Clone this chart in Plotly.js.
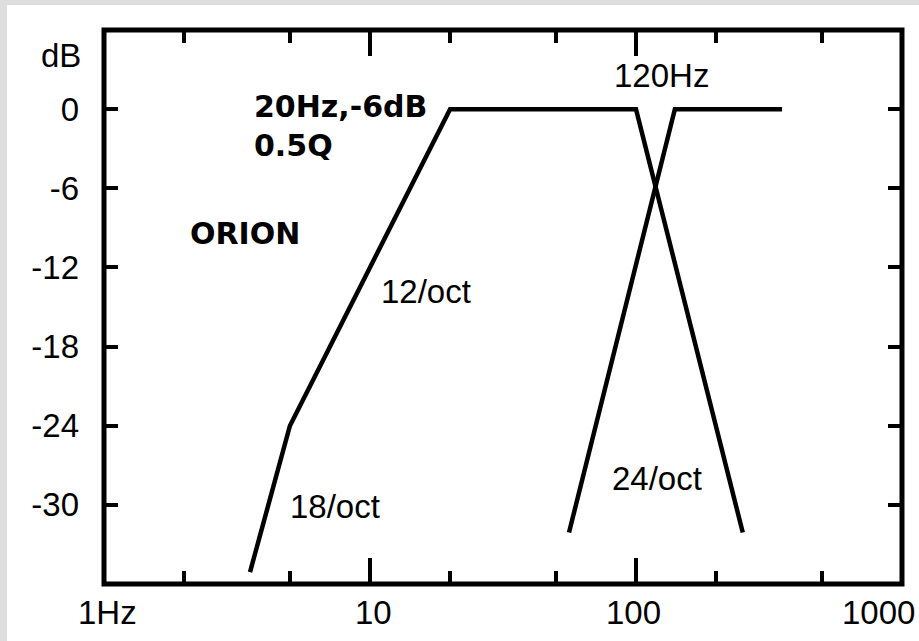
<!DOCTYPE html>
<html>
<head>
<meta charset="utf-8">
<script src="https://cdn.plot.ly/plotly-3.0.1.min.js"></script>
<style>
html,body{margin:0;padding:0;background:#ffffff;overflow:hidden;}
#chart{position:absolute;left:0;top:0;width:919px;height:641px;background:#ffffff;}
</style>
</head>
<body>
<div id="chart"></div>
<script>
// Frequency (Hz) and level (dB)
const highPassFreq = [3.54, 5, 20, 100, 252];
const highPassDb   = [-35.1, -24, 0, 0, -32.1];
const lowCutFreq   = [56, 140, 354];
const lowCutDb     = [-32.1, 0, 0];

const yTickVals  = [0, -6, -12, -18, -24, -30];
const yTickText  = ["0", "-6", "-12", "-18", "-24", "-30"];
const xMajorVals = [10, 100];
const xMinorVals = [2, 5, 20, 50, 200, 500];
const xLabelVals = [1, 10, 100, 1000];
const xLabelText = ["1Hz", "10", "100", "1000"];
const xLabelShift = [-28, -17, -32, -62];

const REG = "Liberation Sans, Arial, sans-serif";
const BOLD = "DejaVu Sans, sans-serif";

const lineStyle = {color: "#000", width: 4.5};
const traces = [
  {x: highPassFreq, y: highPassDb, mode: "lines", line: lineStyle, hoverinfo: "skip"},
  {x: lowCutFreq, y: lowCutDb, mode: "lines", line: lineStyle, hoverinfo: "skip"}
];

const annotations = [];
xLabelVals.forEach((v, i) => {
  annotations.push({x: Math.log10(v), xref: "x", y: 0, yref: "paper", xanchor: "left", yanchor: "middle",
    xshift: xLabelShift[i], yshift: -28, text: xLabelText[i], showarrow: false,
    font: {family: REG, size: 33, color: "#000"}});
});
annotations.push({x: 0, xref: "paper", y: 4.1, yref: "y", xanchor: "right", yanchor: "middle", xshift: -21,
  text: "dB", showarrow: false, font: {family: REG, size: 33, color: "#000"}});

function note(text, fx, dy, bold) {
  annotations.push({x: Math.log10(fx), y: dy, xref: "x", yref: "y", xanchor: "left", yanchor: "middle",
    text: bold ? "<b>" + text + "</b>" : text, showarrow: false,
    font: bold ? {family: BOLD, size: 30, color: "#000"} : {family: REG, size: 33, color: "#000"}});
}
note("20Hz,-6dB", 3.6, 0.2, true);
note("0.5Q", 3.6, -2.75, true);
note("ORION", 2.07, -9.4, true);
note("12/oct", 10.8, -13.8, false);
note("18/oct", 4.92, -30.1, false);
note("24/oct", 79.8, -28.0, false);
note("120Hz", 81.3, 2.55, false);

const layout = {
  width: 919, height: 641,
  margin: {l: 104, r: 17, t: 30, b: 57, pad: 0},
  paper_bgcolor: "#ffffff",
  plot_bgcolor: "#ffffff",
  showlegend: false,
  xaxis: {
    type: "log", range: [0, 3], fixedrange: true,
    showgrid: false, zeroline: false,
    showline: false, mirror: "ticks",
    tickmode: "array", tickvals: xMajorVals, ticks: "inside", ticklen: 26, tickwidth: 4, tickcolor: "#000",
    showticklabels: false,
    minor: {tickmode: "array", tickvals: xMinorVals, ticks: "inside", ticklen: 13, tickwidth: 4, tickcolor: "#000", showgrid: false}
  },
  yaxis: {
    range: [-36, 6], fixedrange: true,
    showgrid: false, zeroline: false,
    showline: false, mirror: "ticks",
    tickmode: "array", tickvals: yTickVals, ticktext: yTickText,
    ticks: "inside", ticklen: 14, tickwidth: 4, tickcolor: "#000",
    ticklabelstandoff: 24,
    tickfont: {family: REG, size: 33, color: "#000"}
  },
  shapes: [
    {type: "rect", xref: "paper", yref: "paper", x0: -0.2, x1: -0.1216, y0: -0.2, y1: 1.2,
     fillcolor: "#dedede", line: {width: 0}, layer: "below"},
    {type: "rect", xref: "paper", yref: "paper", x0: -0.2, x1: 1.2, y0: 1.045, y1: 1.2,
     fillcolor: "#dedede", line: {width: 0}, layer: "below"},
    {type: "rect", xref: "paper", yref: "paper", x0: 0, x1: 1, y0: 0, y1: 1,
     line: {color: "#000", width: 5}, fillcolor: "rgba(0,0,0,0)", layer: "above"}
  ],
  annotations: annotations
};

Plotly.newPlot("chart", traces, layout, {staticPlot: true, displayModeBar: false});
</script>
</body>
</html>
